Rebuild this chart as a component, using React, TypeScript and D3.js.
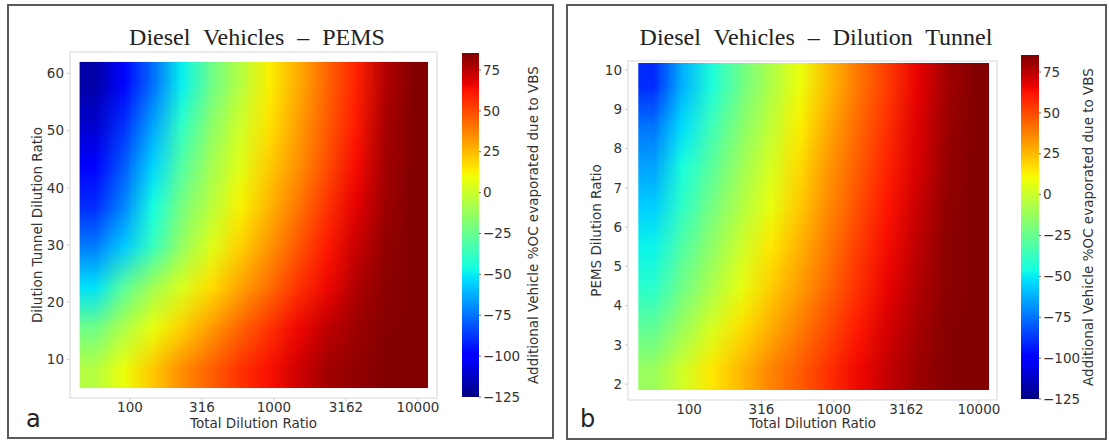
import * as d3 from 'd3';
import React, { useRef, useEffect } from 'react';

// log10(total dilution ratio) at the centre of each heatmap column
const xCells = [1.751, 1.953, 2.154, 2.356, 2.558, 2.759, 2.961, 3.163, 3.364, 3.566, 3.768, 3.969];
const xTickValues = [2, 2.5, 3, 3.5, 4];
const xTickLabels = ['100', '316', '1000', '3162', '10000'];

// panel a: dilution tunnel dilution ratio, row centres from top to bottom
const pemsRows = [58.44, 51.31, 44.19, 37.06, 29.94, 22.81, 15.69, 8.56];
const pemsValues = [
  [-118, -98, -76, -49, -24, -5, 13, 28, 44, 59, 76, 85],
  [-111, -89, -65, -39, -16, 1, 16, 31, 46, 61, 78, 85],
  [-102, -80, -55, -30, -10, 6, 21, 34, 49, 64, 79, 85],
  [-90, -71, -46, -21, -4, 12, 26, 40, 55, 67, 80, 85],
  [-73, -57, -37, -13, 5, 20, 33, 47, 61, 72, 82, 85],
  [-52, -28, -10, 4, 17, 30, 42, 55, 65, 77, 83, 85],
  [-23, -7, 8, 20, 32, 44, 55, 65, 74, 80, 84, 85],
  [-5, 9, 22, 35, 45, 55, 63, 71, 79, 82, 85, 85],
];
const pemsYTicks = [10, 20, 30, 40, 50, 60];

// panel b: PEMS dilution ratio, row centres from top to bottom
const tunnelRows = [9.66, 8.62, 7.58, 6.54, 5.49, 4.45, 3.41, 2.37];
const tunnelValues = [
  [-90, -62, -44, -23, -7, 9, 25, 40, 53, 66, 79, 85],
  [-75, -53, -35, -17, -2, 13, 29, 43, 56, 68, 80, 85],
  [-65, -45, -28, -11, 3, 18, 33, 46, 59, 69, 81, 85],
  [-56, -39, -21, -6, 8, 22, 36, 49, 62, 72, 82, 85],
  [-48, -30, -14, 1, 15, 27, 40, 53, 64, 74, 83, 85],
  [-40, -22, -7, 8, 21, 32, 44, 56, 66, 76, 83, 85],
  [-26, -11, 4, 17, 28, 39, 50, 61, 70, 78, 84, 85],
  [-12, 2, 15, 26, 37, 46, 56, 65, 73, 80, 84, 85],
];
const tunnelYTicks = [2, 3, 4, 5, 6, 7, 8, 9, 10];

const cbarTicks = [-125, -100, -75, -50, -25, 0, 25, 50, 75];
const cbarDomain = [-125, 85.4];

const sans = '"DejaVu Sans", Verdana, sans-serif';
const serif = '"Liberation Serif", "Times New Roman", serif';

// matplotlib jet
const jetR = d3.scaleLinear().domain([0, 0.35, 0.66, 0.89, 1]).range([0, 0, 1, 1, 0.5]).clamp(true);
const jetG = d3.scaleLinear().domain([0, 0.125, 0.375, 0.64, 0.91, 1]).range([0, 0, 1, 1, 0, 0]).clamp(true);
const jetB = d3.scaleLinear().domain([0, 0.11, 0.34, 0.65, 1]).range([0.5, 1, 1, 0, 0]).clamp(true);
const jetT = (t) => d3.rgb(jetR(t) * 255, jetG(t) * 255, jetB(t) * 255);
const norm = d3.scaleLinear().domain(cbarDomain).range([0, 1]).clamp(true);
const jetStops = [0, 0.11, 0.125, 0.34, 0.35, 0.375, 0.64, 0.65, 0.66, 0.89, 0.91, 1];

const minus = (s) => s.replace('-', '\u2212');

const panels = [
  {
    id: 'a', title: 'Diesel Vehicles – PEMS', yLabel: 'Dilution Tunnel Dilution Ratio',
    rows: pemsRows, values: pemsValues, yTicks: pemsYTicks, yDomain: [5, 62],
    box: [8, 5, 545, 433], frame: [70, 52, 367, 346], xRange: [79.6, 428], yRange: [388, 62],
    titleX: 257, yLabelX: 37.5, cbarX: 462, cbarW: 17, cbarY: [53, 397], cbarLabelX: 533, letterX: 26,
  },
  {
    id: 'b', title: 'Diesel Vehicles – Dilution Tunnel', yLabel: 'PEMS Dilution Ratio',
    rows: tunnelRows, values: tunnelValues, yTicks: tunnelYTicks, yDomain: [1.85, 10.18],
    box: [567, 5, 539, 434], frame: [628, 61, 369, 339], xRange: [638.3, 989], yRange: [390, 63],
    titleX: 816, yLabelX: 596, cbarX: 1021, cbarW: 18, cbarY: [55, 399], cbarLabelX: 1088, letterX: 580,
  },
];

function HeatPanel({ p }) {
  const ref = useRef(null);

  useEffect(() => {
    draw();
  }, []);

  const draw = () => {
    const g = d3.select(ref.current);
    g.selectAll('*').remove();

    const x = d3.scaleLinear().domain([1.65, 4.07]).range(p.xRange);
    const y = d3.scaleLinear().domain(p.yDomain).range(p.yRange);
    const [fx, fy, fw, fh] = p.frame;

    // outer box
    g.append('rect')
      .attr('x', p.box[0]).attr('y', p.box[1])
      .attr('width', p.box[2]).attr('height', p.box[3])
      .attr('fill', 'white').attr('stroke', '#5a5a5a').attr('stroke-width', 2);

    // heatmap: grid painted into a tiny canvas, smoothed by the browser when scaled
    const nx = xCells.length, ny = p.rows.length;
    const canvas = document.createElement('canvas');
    canvas.width = nx;
    canvas.height = ny;
    const ctx = canvas.getContext('2d');
    const img = ctx.createImageData(nx, ny);
    p.values.forEach((row, j) => row.forEach((v, i) => {
      const c = jetT(norm(v));
      const k = (j * nx + i) * 4;
      img.data[k] = c.r;
      img.data[k + 1] = c.g;
      img.data[k + 2] = c.b;
      img.data[k + 3] = 255;
    }));
    ctx.putImageData(img, 0, 0);

    const dx = xCells[1] - xCells[0];
    const dy = p.rows[0] - p.rows[1];
    const x0 = x(xCells[0] - dx / 2), x1 = x(xCells[nx - 1] + dx / 2);
    const y0 = y(p.rows[0] + dy / 2), y1 = y(p.rows[ny - 1] - dy / 2);
    g.append('image')
      .attr('href', canvas.toDataURL())
      .attr('x', x0).attr('y', y0)
      .attr('width', x1 - x0).attr('height', y1 - y0)
      .attr('preserveAspectRatio', 'none')
      .style('image-rendering', 'auto');

    // axes frame
    g.append('rect')
      .attr('x', fx).attr('y', fy).attr('width', fw).attr('height', fh)
      .attr('fill', 'none').attr('stroke', '#d6d6e0').attr('stroke-width', 1);

    // x ticks
    const xt = g.append('g');
    xTickValues.forEach((v, i) => {
      xt.append('line')
        .attr('x1', x(v)).attr('x2', x(v)).attr('y1', fy + fh).attr('y2', fy + fh + 3)
        .attr('stroke', '#ccc');
      xt.append('text')
        .attr('x', x(v)).attr('y', fy + fh + 14)
        .attr('text-anchor', 'middle')
        .attr('font-family', sans).attr('font-size', 13.5).attr('fill', '#333')
        .text(xTickLabels[i]);
    });
    g.append('text')
      .attr('x', fx + fw / 2).attr('y', 428)
      .attr('text-anchor', 'middle')
      .attr('font-family', sans).attr('font-size', 13.5).attr('fill', '#333')
      .text('Total Dilution Ratio');

    // y ticks
    const yt = g.append('g');
    p.yTicks.forEach((v) => {
      yt.append('line')
        .attr('x1', fx - 3).attr('x2', fx).attr('y1', y(v)).attr('y2', y(v))
        .attr('stroke', '#ccc');
      yt.append('text')
        .attr('x', fx - 6).attr('y', y(v)).attr('dy', '0.35em')
        .attr('text-anchor', 'end')
        .attr('font-family', sans).attr('font-size', 13.5).attr('fill', '#333')
        .text(v);
    });
    g.append('text')
      .attr('transform', `translate(${p.yLabelX},${fy + fh / 2}) rotate(-90)`)
      .attr('dy', '0.35em')
      .attr('text-anchor', 'middle')
      .attr('font-family', sans).attr('font-size', 13.5).attr('fill', '#333')
      .text(p.yLabel);

    // title
    g.append('text')
      .attr('x', p.titleX).attr('y', 45)
      .attr('text-anchor', 'middle')
      .attr('font-family', serif).attr('font-size', 24).attr('fill', '#222')
      .style('word-spacing', '7px')
      .text(p.title);

    // colorbar
    const gid = 'jet-' + p.id;
    const grad = g.append('defs').append('linearGradient')
      .attr('id', gid).attr('x1', 0).attr('y1', 1).attr('x2', 0).attr('y2', 0);
    jetStops.forEach((t) => {
      grad.append('stop').attr('offset', t).attr('stop-color', jetT(t).formatHex());
    });
    const cy = d3.scaleLinear().domain(cbarDomain).range([p.cbarY[1], p.cbarY[0]]);
    g.append('rect')
      .attr('x', p.cbarX).attr('y', p.cbarY[0])
      .attr('width', p.cbarW).attr('height', p.cbarY[1] - p.cbarY[0])
      .attr('fill', `url(#${gid})`);
    cbarTicks.forEach((v) => {
      g.append('line')
        .attr('x1', p.cbarX + p.cbarW).attr('x2', p.cbarX + p.cbarW + 2)
        .attr('y1', cy(v)).attr('y2', cy(v)).attr('stroke', '#666');
      g.append('text')
        .attr('x', p.cbarX + p.cbarW + 4).attr('y', cy(v)).attr('dy', '0.35em')
        .attr('font-family', sans).attr('font-size', 13.5).attr('fill', '#333')
        .text(minus(String(v)));
    });
    g.append('text')
      .attr('transform', `translate(${p.cbarLabelX},${(p.cbarY[0] + p.cbarY[1]) / 2}) rotate(-90)`)
      .attr('dy', '0.35em')
      .attr('text-anchor', 'middle')
      .attr('font-family', sans).attr('font-size', 13.5).attr('fill', '#333')
      .text('Additional Vehicle %OC evaporated due to VBS');

    // panel letter
    g.append('text')
      .attr('x', p.letterX).attr('y', 427)
      .attr('font-family', sans).attr('font-size', 24).attr('fill', '#222')
      .text(p.id);
  };

  return <g ref={ref}></g>;
}

export default function App() {
  return (
    <svg width={1109} height={441}
      style={{ position: 'absolute', left: 0, top: 0, display: 'block', background: 'white' }}>
      {panels.map((p) => <HeatPanel key={p.id} p={p} />)}
    </svg>
  );
}
